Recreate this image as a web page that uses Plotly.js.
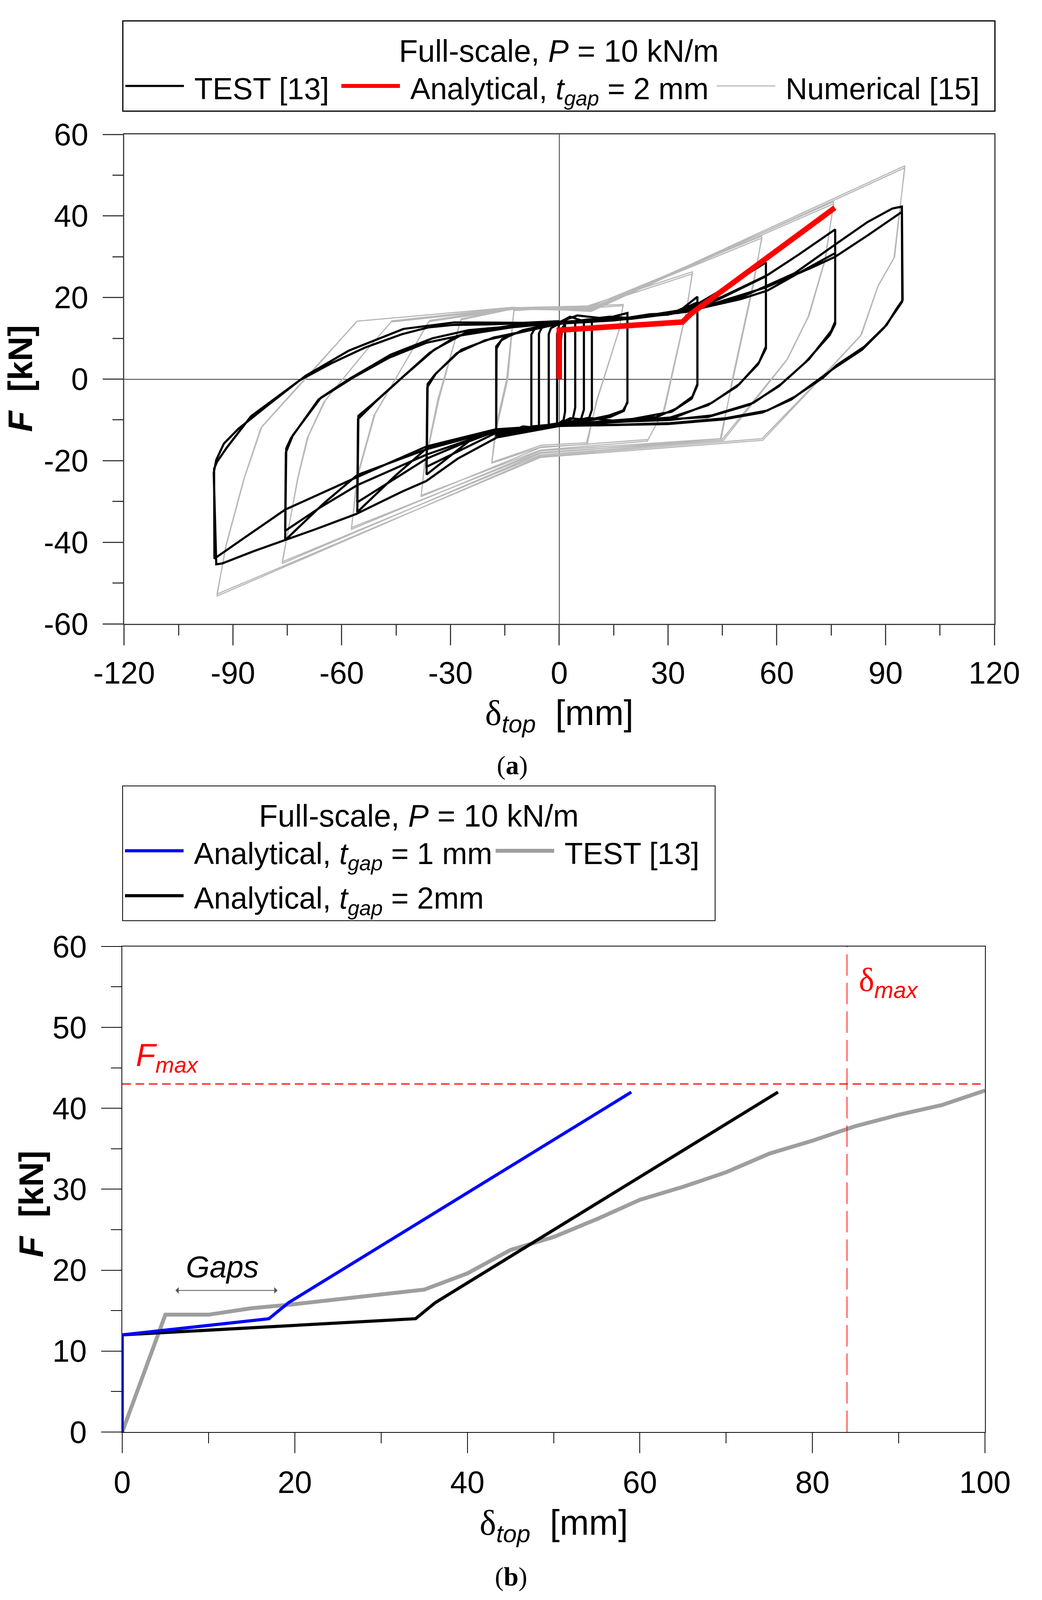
<!DOCTYPE html>
<html>
<head>
<meta charset="utf-8">
<script src="https://cdn.plot.ly/plotly-3.0.1.min.js"></script>
<style>
  html, body { margin: 0; padding: 0; background: #fff; }
  #chart { width: 2668px; height: 4146px; }
</style>
</head>
<body>
<div id="chart"></div>
<script>
// ---- (a) cyclic test, full-scale P = 10 kN/m ----
// [delta_top (mm), F (kN)], in loading order
const testCurve = [
  // small cycles (+-2 .. +-9 mm)
  [0,0],[0.3,8],[0.8,12.5],[1.6,13.5],[1.6,-8],[1.2,-10],[0,-10.8],[-0.6,-11],[-0.6,11],[0,13.5],
  [2,13.8],[4.4,14],[4.4,-7],[3.8,-9.5],[2,-10.5],[0,-10.8],[-2.9,-11.2],[-2.9,11],[-2.3,12.5],[0,13.6],
  [4,14.2],[6.8,14.1],[6.8,-7.5],[6,-9.8],[3,-10.5],[0,-11],[-5.6,-11.5],[-5.6,11.2],[-4.8,12.6],[0,13.8],
  [5,14.3],[9,14.2],[9,-7.5],[8.2,-9.6],[5,-10.4],[0,-11],[-7.7,-11.6],[-7.7,10.9],[-6.8,12.3],[-3,13.2],[0,13.9],
  // +-19 mm
  [3,15.3],[6,14.4],[10,14.9],[14,15.3],[18.8,15],[18.8,-5.8],[17.6,-7.7],[13.8,-8.9],[8,-10],[3,-9.6],[0,-10.9],[-5,-12.1],
  [-10,-11.6],[-14,-13.1],[-17.4,-13.2],[-17.4,8],[-16,9.5],[-12.9,11],[-6,12.8],[0,13.8],
  [10,14.2],[18.8,16.2],[18.8,-5.5],[17.8,-7.8],[14,-9.3],[0,-11.2],[-17.4,-13.8],[-17.3,7.5],[-15.8,9.8],[-10,12],[0,14],
  // +-38 mm
  [5,15.6],[15,14.6],[22,15.4],[30,15.8],[34,17.3],[38.1,20.2],[38.1,-1.2],[36.7,-4.3],[32.1,-7.3],[26.8,-9.3],[15,-10.2],
  [8,-9.5],[0,-11],[-8,-11.9],[-17.5,-12.8],[-25,-15.3],[-36.6,-23.4],[-36.3,-1.2],[-34.3,1.1],[-28.2,6.4],[-20.5,9.5],
  [-9,11.8],[0,13.6],
  [15,14.4],[31,16],[38.1,18.8],[38.1,-1.5],[36.5,-4.8],[31,-8],[20,-9.8],[0,-11.2],[-17.5,-13.2],[-36.6,-21.5],
  [-36.4,-2],[-34,1.4],[-27,7.2],[-18,10.2],[-5,12.6],[0,13.8],
  // +-57 mm
  [15,14.5],[25,15.9],[33,16.2],[38.3,18.5],[45,22],[57,28.6],[57,8],[55.1,4.1],[49.7,-1.2],[42.1,-5.8],[32.1,-9.3],
  [20,-10.2],[0,-11],[-20,-13],[-36.6,-17],[-45,-23.5],[-55.7,-32.6],[-55.4,-9],[-51.1,-5.8],[-43.5,0.3],[-35.8,6.4],
  [-28.2,10.6],[-16.7,12.5],[0,13.8],
  [20,14.8],[36,16.6],[45,20],[57,25.2],[57,7.5],[54.8,3.6],[49,-1.8],[41,-6.4],[30,-9.6],[0,-11.2],
  [-20,-13.3],[-36.6,-19.5],[-55.7,-30.2],[-55.5,-9.8],[-50.5,-5.4],[-42.8,0.8],[-34.5,7.2],[-26,11.3],[-14,13],[0,14],
  // +-76 mm
  [20,14.8],[35,16.8],[45,20.2],[57.4,25.5],[66,30.5],[76.1,36.7],[76.1,14.1],[75,11.8],[68.9,4.9],[61.2,-1.2],[53.6,-5.8],
  [42.1,-8.9],[30.6,-10],[0,-11],[-20,-13.2],[-36.6,-17.2],[-55.7,-23.5],[-65,-30.5],[-75.6,-39.5],[-75.3,-17],[-74,-14.5],
  [-70,-9.5],[-66.4,-5],[-56.8,0.4],[-46.8,5.3],[-36.7,8.9],[-26.6,10.8],[-13.2,12.7],[0,13.8],
  [20,14.9],[38,17.2],[50,19.6],[57.4,21.7],[66,26],[76.1,30.9],[76.1,13.5],[74.6,10.8],[68,4.2],[60.5,-1.8],[52.5,-6.3],
  [41,-9.3],[0,-11.3],[-20,-13.4],[-36.6,-18.5],[-55.7,-26],[-66,-31.5],[-75.6,-37.2],[-75.4,-18],[-73.5,-13.8],[-65.8,-4.6],
  [-58,0],[-46.5,6],[-35,10],[-25,12],[0,14],
  // +-95 mm
  [20,15],[35,17],[50,20],[65,26],[76.1,33],[85,38.5],[91.8,41.8],[94.5,42.3],[94.7,19.4],[93,17.2],[90.3,13.3],[84.2,8],
  [76.5,3.4],[72.7,0.3],[65,-4.3],[57.4,-7.7],[45.9,-9.6],[30.6,-10.8],[15.3,-11.2],[0,-11.3],[-17.5,-12.3],[-36.6,-16.5],
  [-55.7,-24],[-75.6,-32],[-87,-39],[-95.1,-44],[-95.2,-22],[-94.4,-20.3],[-91.7,-16.8],[-85,-9.1],[-78,-4.5],[-71.6,-0.3],
  [-62.8,3.9],[-53.4,7.8],[-43.4,11],[-36,12.7],[-29.3,13.3],[-19.9,13.4],[-6.5,13.8],[0,14],
  [20,15],[40,17.8],[57,22.5],[70,27.5],[76.1,30],[85,35.2],[94.5,41],[94.6,19],[92.6,16.4],[89.6,12.6],[83.5,7.2],[75.5,2.5],
  [64,-5],[56,-8.2],[45,-9.9],[30,-11],[0,-11.5],[-17.2,-14.3],[-28,-19.5],[-36.7,-25],[-43.4,-27.6],[-56.1,-33.1],
  [-66.9,-36.7],[-74.9,-39.2],[-84.3,-42.2],[-93,-45.2],[-94.6,-45.4],[-95.3,-23],[-94.6,-19.8],[-92.5,-15.8],[-88.5,-12.2],
  [-80.5,-6.5],[-70,0.8],[-58,7],[-43,12.3],[-29,13.9],[-10,13.8],[0,14.2]
];

// numerical model [15], same loading protocol
const numericalCurve = [
  // +-19 mm
  [-12.5,17.5],[7.5,17.9],[17.6,18.3],[16.5,12],[10.5,-5],[7.5,-15.6],[-5,-16.2],[-18.6,-20.4],[-17.6,-12],[-14.5,0],[-12.5,17.0],
  [8,17.4],[17.6,18.0],[16.3,11.5],[10.2,-5.5],[7.7,-16.0],[-5,-16.6],[-18.6,-20.6],[-17.4,-12.5],[-14.2,0],[-12.5,16.8],
  // +-38 mm
  [7.7,17.9],[36.7,26.3],[35.2,17.2],[29.1,-7.3],[24.5,-14.8],[-5.2,-16.8],[-38.1,-28.8],[-37.2,-21],[-33.5,-5],[-27,14.8],
  [-12.9,17.3],[8,17.5],[36.7,25.8],[35,16.6],[28.8,-7.6],[24.3,-15.2],[-5.2,-17.4],[-38.1,-28.5],[-37,-20.5],[-33.2,-5],[-27.2,14.5],
  // +-57 mm
  [-12.9,17.2],[8,17.6],[55.9,35.1],[53.6,23.3],[48.2,1.1],[44.4,-14.6],[-5.2,-17.6],[-57.3,-36.8],[-55.8,-24],[-51.1,-8.9],[-35.7,14.4],
  [-12.9,17.4],[8.2,17.3],[55.9,34.6],[53.3,22.8],[47.9,0.7],[44.6,-15],[-5.2,-18],[-57.3,-36.4],[-55.5,-23.5],[-50.8,-8.6],[-36,14.1],
  // +-76 mm
  [-12.9,17.1],[8.3,17.2],[75.7,43.5],[73.4,29.4],[68.9,15.6],[63,5],[45.1,-14.6],[-5.2,-18.2],[-76.4,-45.2],[-72.2,-24.5],[-69.5,-14.4],
  [-64.9,-5.6],[-54.1,6.1],[-46.1,14.3],[-12.9,17.5],[8.5,17],[75.7,43],[73.2,29],[68.6,15.2],[62.7,4.6],[45.3,-15],[-5.2,-18.6],
  [-76.4,-44.8],[-72,-24],[-69.2,-14],[-64.5,-5.2],[-53.8,6.4],[-46.4,14],
  // +-95 mm
  [-12.9,17.2],[8.6,16.8],[95.3,52.3],[92.5,30],[88,23],[83.4,11],[74,2],[55.9,-14.6],[-5.2,-18.9],[-94.4,-53.2],[-92,-41],[-87,-24.5],
  [-82.3,-12],[-68,2],[-55.8,14.2],[-12.9,17.6],[8.8,16.6],[95.3,51.8],[92.3,29.6],[87.8,22.6],[83.1,10.6],[73.7,1.6],[56.1,-15],
  [-5.2,-19.2],[-94.4,-52.7],[-91.8,-40.6],[-86.8,-24.1],[-82,-11.6],[-67.8,2.4],[-56.1,13.8]
];

// analytical model, t_gap = 2 mm
const analyticalX = [0, 0, 34, 36.3, 76];
const analyticalY = [0, 12, 14, 16, 42];

// ---- (b) monotonic envelopes ----
const gap1X = [0, 0, 17, 19.3, 59];
const gap1Y = [0, 12, 14, 16, 42];
const gap2X = [0, 0, 34, 36.3, 76];
const gap2Y = [0, 12, 14, 16, 42];
const testEnvX = [0, 5, 10, 15, 20, 25, 30, 35, 40, 45, 50, 55, 60, 65, 70, 75, 80, 85, 90, 95, 100];
const testEnvY = [0, 14.5, 14.5, 15.3, 15.8, 16.4, 17.1, 17.6, 19.6, 22.5, 24.1, 26.3, 28.7, 30.3, 32.1, 34.4, 36.0, 37.8, 39.2, 40.4, 42.2];
const F_MAX = 43;
const DELTA_MAX = 84;
const gapArrowX = [6.1, 18];
const gapArrowY = 17.5;

// ticks
const xTicksA = [-120, -90, -60, -30, 0, 30, 60, 90, 120];
const yTicksA = [-60, -40, -20, 0, 20, 40, 60];
const xTicksB = [0, 20, 40, 60, 80, 100];
const yTicksB = [0, 10, 20, 30, 40, 50, 60];

const FONT = 'Liberation Sans, Arial, sans-serif';
const SERIF = 'Liberation Serif, Times New Roman, serif';
const AX = '#3c3c3c';
const SP = '\u00a0';
const tgap = '<i>t</i><sub><i>gap</i></sub>';
const delta = '<span style="font-family:' + SERIF + '">δ</span>';
// legend rows are laid out with a taller line than the text itself
const lg = s => '<span style="font-size:77px">' + SP + s + '</span>';

var traces = [
  {
    x: numericalCurve.map(p => p[0]), y: numericalCurve.map(p => p[1]),
    mode: 'lines', name: lg('Numerical [15]'), legend: 'legend', legendrank: 3, legendwidth: 551,
    line: {color: '#b8b8b8', width: 3}, xaxis: 'x', yaxis: 'y'
  },
  {
    x: testCurve.map(p => p[0]), y: testCurve.map(p => p[1]),
    mode: 'lines', name: lg('TEST [13]'), legend: 'legend', legendrank: 1, legendwidth: 388,
    line: {color: '#000000', width: 5.5}, xaxis: 'x', yaxis: 'y'
  },
  {
    x: analyticalX, y: analyticalY,
    mode: 'lines', name: lg('Analytical, ' + tgap + ' = 2 mm'), legend: 'legend', legendrank: 2, legendwidth: 796,
    line: {color: '#ff0000', width: 14}, xaxis: 'x', yaxis: 'y'
  },
  {
    x: testEnvX, y: testEnvY,
    mode: 'lines', name: lg('TEST [13]'), legend: 'legend2', legendrank: 2, legendwidth: 401,
    line: {color: '#9e9e9e', width: 10}, xaxis: 'x2', yaxis: 'y2'
  },
  {
    x: gap2X, y: gap2Y,
    mode: 'lines', name: lg('Analytical, ' + tgap + ' = 2mm'), legend: 'legend2', legendrank: 3, legendwidth: 784,
    line: {color: '#000000', width: 8}, xaxis: 'x2', yaxis: 'y2'
  },
  {
    x: gap1X, y: gap1Y,
    mode: 'lines', name: lg('Analytical, ' + tgap + ' = 1 mm'), legend: 'legend2', legendrank: 1, legendwidth: 784,
    line: {color: '#0000ff', width: 8}, xaxis: 'x2', yaxis: 'y2'
  }
];

function axis(extra) {
  return Object.assign({
    ticks: 'outside', tickwidth: 3, tickcolor: AX,
    showline: true, mirror: true, linecolor: AX, linewidth: 3,
    showgrid: false, zeroline: false,
    tickfont: {size: 79, family: FONT, color: '#000'}
  }, extra);
}

var legendCommon = {
  orientation: 'h', xanchor: 'left', yanchor: 'top', bgcolor: '#ffffff',
  bordercolor: '#000000', font: {size: 86, family: FONT, color: '#000'},
  itemwidth: 150, valign: 'middle', traceorder: 'normal',
  title: {text: 'Full-scale, <i>P</i> = 10 kN/m', side: 'top center',
    font: {size: 79, family: FONT, color: '#000'}}
};

var layout = {
  width: 2668, height: 4146,
  margin: {l: 313, r: 122, t: 344, b: 480, autoexpand: false},
  paper_bgcolor: '#ffffff', plot_bgcolor: '#ffffff',
  font: {family: FONT, color: '#000'},
  hovermode: false,
  xaxis: axis({
    domain: [0.0022, 1], range: [-120, 120], anchor: 'y',
    tickmode: 'array', tickvals: xTicksA, ticktext: xTicksA.map(String),
    ticklen: 52, ticklabelstandoff: 3,
    minor: {tickmode: 'linear', tick0: -120, dtick: 15, ticks: 'outside', ticklen: 27, tickwidth: 3, tickcolor: AX},
    zeroline: true, zerolinecolor: AX, zerolinewidth: 2
  }),
  yaxis: axis({
    domain: [0.6228, 1], range: [-60, 60], anchor: 'x',
    tickmode: 'array', tickvals: yTicksA, ticktext: yTicksA.map(String),
    ticklen: 52, ticklabelstandoff: 21,
    minor: {tickmode: 'linear', tick0: -60, dtick: 10, ticks: 'outside', ticklen: 27, tickwidth: 3, tickcolor: AX},
    zeroline: true, zerolinecolor: AX, zerolinewidth: 2
  }),
  xaxis2: axis({
    domain: [0, 0.9893], range: [0, 100], anchor: 'y2',
    tickmode: 'array', tickvals: xTicksB, ticktext: xTicksB.map(String),
    ticklen: 52, ticklabelstandoff: 7, linecolor: '#000', linewidth: 2, tickwidth: 2, tickcolor: '#000',
    minor: {tickmode: 'linear', tick0: 0, dtick: 10, ticks: 'outside', ticklen: 27, tickwidth: 2, tickcolor: '#000'}
  }),
  yaxis2: axis({
    domain: [0, 0.3742], range: [0, 60], anchor: 'x2',
    tickmode: 'array', tickvals: yTicksB, ticktext: yTicksB.map(String),
    ticklen: 52, ticklabelstandoff: 21, linecolor: '#000', linewidth: 2, tickwidth: 2, tickcolor: '#000',
    minor: {tickmode: 'linear', tick0: 0, dtick: 5, ticks: 'outside', ticklen: 27, tickwidth: 2, tickcolor: '#000'}
  }),
  legend: Object.assign({}, legendCommon, {x: 0, y: 1.0879, borderwidth: 3}),
  legend2: Object.assign({}, legendCommon, {x: 0, y: 0.4982, borderwidth: 2}),
  shapes: [
    {type: 'line', xref: 'x2', yref: 'y2', x0: 0, x1: 100, y0: F_MAX, y1: F_MAX,
      line: {color: '#ff0000', width: 3, dash: '22px,12px'}},
    {type: 'line', xref: 'x2', yref: 'y2', x0: DELTA_MAX, x1: DELTA_MAX, y0: 0, y1: 60,
      line: {color: '#ff0000', width: 2, dash: '55px,18px'}}
  ],
  annotations: [
    {xref: 'paper', yref: 'paper', x: 0.5011, y: 0.5521, showarrow: false, xanchor: 'center', yanchor: 'middle',
      text: delta + '<sub><i>top</i></sub>' + SP + SP + '[mm]', font: {size: 90, family: FONT}},
    {xref: 'paper', yref: 'paper', x: 0.4948, y: -0.0718, showarrow: false, xanchor: 'center', yanchor: 'middle',
      text: delta + '<sub><i>top</i></sub>' + SP + SP + '[mm]', font: {size: 90, family: FONT}},
    {xref: 'paper', yref: 'paper', x: -0.1169, y: 0.8119, showarrow: false, textangle: -90,
      xanchor: 'center', yanchor: 'middle', text: '<b><i>F</i>' + SP + SP + '[kN]</b>', font: {size: 88, family: FONT}},
    {xref: 'paper', yref: 'paper', x: -0.1043, y: 0.1758, showarrow: false, textangle: -90,
      xanchor: 'center', yanchor: 'middle', text: '<b><i>F</i>' + SP + SP + '[kN]</b>', font: {size: 88, family: FONT}},
    {xref: 'paper', yref: 'paper', x: 0.447, y: 0.5138, showarrow: false, xanchor: 'center', yanchor: 'middle',
      text: '(<b>a</b>)', font: {size: 68, family: SERIF}},
    {xref: 'paper', yref: 'paper', x: 0.4456, y: -0.1113, showarrow: false, xanchor: 'center', yanchor: 'middle',
      text: '(<b>b</b>)', font: {size: 68, family: SERIF}},
    {xref: 'x2', yref: 'y2', x: 1.5, y: 46.3, showarrow: false, xanchor: 'left', yanchor: 'middle',
      text: '<i>F<sub>max</sub></i>', font: {size: 82, family: FONT, color: '#ff0000'}},
    {xref: 'x2', yref: 'y2', x: 85.3, y: 55.6, showarrow: false, xanchor: 'left', yanchor: 'middle',
      text: '<span style="font-family:' + SERIF + '">δ</span><sub><i>max</i></sub>', font: {size: 84, family: FONT, color: '#ff0000'}},
    {xref: 'x2', yref: 'y2', x: 11.6, y: 20.4, showarrow: false, xanchor: 'center', yanchor: 'middle',
      text: '<i>Gaps</i>', font: {size: 78, family: FONT, color: '#000'}},
    {xref: 'x2', yref: 'y2', axref: 'x2', ayref: 'y2', x: gapArrowX[1], y: gapArrowY, ax: gapArrowX[0], ay: gapArrowY,
      text: '', showarrow: true, arrowside: 'end+start', arrowhead: 1, arrowsize: 1.4, arrowwidth: 2, arrowcolor: '#555555'}
  ]
};

Plotly.newPlot('chart', traces, layout, {displayModeBar: false, staticPlot: true});
</script>
</body>
</html>
